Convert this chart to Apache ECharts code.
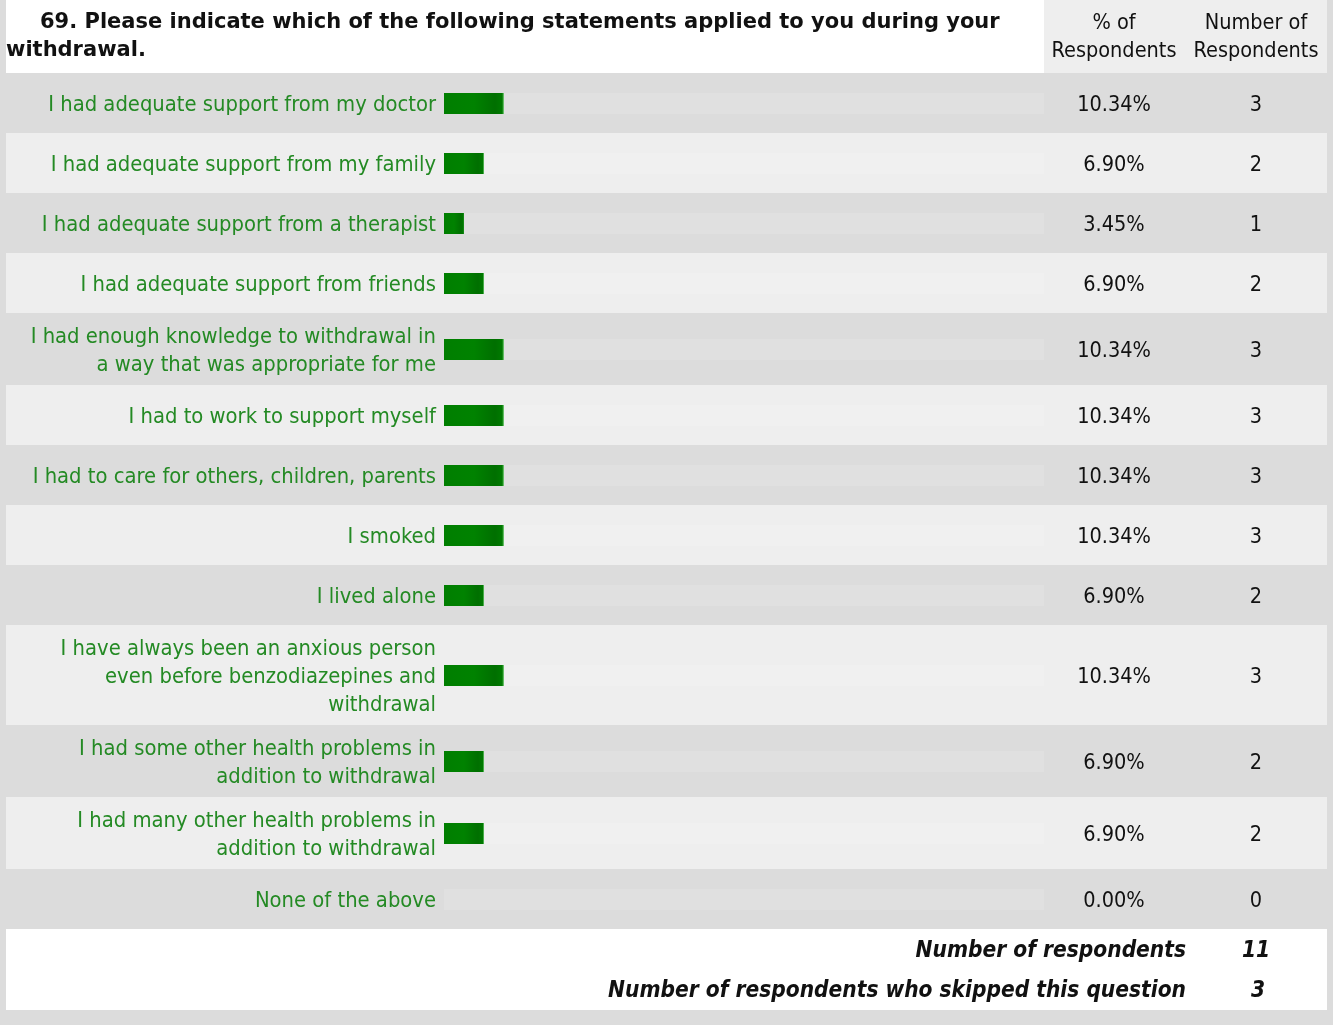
<!DOCTYPE html>
<html>
  <head>
    <meta charset="utf-8" />
    <title>Q69</title>
    <script src="https://cdn.jsdelivr.net/npm/echarts@6/dist/echarts.min.js"></script>
    <style>
      html, body { margin: 0; padding: 0; background: #dcdcdc; }
    </style>
  </head>
  <body>
    <div id="main" style="width: 1333px;height:1025px;"></div>
    <script type="text/javascript">
      // survey answers, line breaks as in the picture
      var statements = [
        'I had adequate support from my doctor',
        'I had adequate support from my family',
        'I had adequate support from a therapist',
        'I had adequate support from friends',
        'I had enough knowledge to withdrawal in\na way that was appropriate for me',
        'I had to work to support myself',
        'I had to care for others, children, parents',
        'I smoked',
        'I lived alone',
        'I have always been an anxious person\neven before benzodiazepines and\nwithdrawal',
        'I had some other health problems in\naddition to withdrawal',
        'I had many other health problems in\naddition to withdrawal',
        'None of the above'
      ];
      var percents = [10.34, 6.90, 3.45, 6.90, 10.34, 10.34, 10.34, 10.34, 6.90, 10.34, 6.90, 6.90, 0.00];
      var counts = [3, 2, 1, 2, 3, 3, 3, 3, 2, 3, 2, 2, 0];
      var totalRespondents = 11;
      var skipped = 3;

      var FONT = '"DejaVu Sans Condensed", "DejaVu Sans", sans-serif';
      var TITLE_FONT = '"DejaVu Sans", sans-serif';
      var GREEN_TXT = '#248a24';

      // row height grows with the number of text lines
      var rows = [];
      var y = 73;
      statements.forEach(function (s, i) {
        var lines = s.split('\n').length;
        var h = Math.max(60, lines * 28 + 16);
        rows.push([y, y + h, percents[i], counts[i], i]);
        y += h;
      });
      var tableEnd = y;

      var myChart = echarts.init(document.getElementById('main'));

      function renderRow(params, api) {
        var i = api.value(4);
        var top = api.coord([0, api.value(0)])[1];
        var bottom = api.coord([0, api.value(1)])[1];
        var mid = (top + bottom) / 2;
        var x0 = api.coord([0, 0])[0];
        var x1 = api.coord([api.value(2), 0])[0];
        var dark = i % 2 === 0;
        var bg = dark ? '#dcdcdc' : '#eeeeee';
        var strip = dark ? '#e0e0e0' : '#f0f0f0';
        var children = [
          { type: 'rect', shape: { x: 6, y: top, width: 1321, height: bottom - top }, style: { fill: bg } },
          { type: 'rect', shape: { x: x0, y: mid - 10, width: 1044 - x0, height: 21 }, style: { fill: strip } }
        ];
        if (api.value(2) > 0) {
          children.push({
            type: 'rect',
            shape: { x: x0, y: mid - 10, width: x1 - x0, height: 21 },
            style: {
              fill: new echarts.graphic.LinearGradient(0, 0, 1, 0, [
                { offset: 0, color: '#007e00' },
                { offset: 0.5, color: '#008200' },
                { offset: 0.85, color: '#006f00' },
                { offset: 0.97, color: '#007a00' },
                { offset: 1, color: '#7fd27f' }
              ])
            }
          });
        }
        children.push({
          type: 'text',
          style: {
            x: 436, y: mid + 2, text: statements[i], align: 'right', verticalAlign: 'middle',
            font: '21.8px ' + FONT, lineHeight: 28, fill: GREEN_TXT
          }
        });
        children.push({
          type: 'text',
          style: {
            x: 1114, y: mid + 2, text: api.value(2).toFixed(2) + '%', align: 'center', verticalAlign: 'middle',
            font: '21.5px ' + FONT, fill: '#111'
          }
        });
        children.push({
          type: 'text',
          style: {
            x: 1256, y: mid + 2, text: String(api.value(3)), align: 'center', verticalAlign: 'middle',
            font: '21.5px ' + FONT, fill: '#111'
          }
        });
        return { type: 'group', children: children };
      }

      var option = {
        animation: false,
        backgroundColor: '#dcdcdc',
        grid: { left: 444, width: 580, top: 0, bottom: 0 },
        xAxis: { type: 'value', min: 0, max: 100, show: false },
        yAxis: { type: 'value', min: 0, max: 1025, inverse: true, show: false },
        graphic: [
          { type: 'rect', shape: { x: 6, y: 0, width: 1038, height: 73 }, style: { fill: '#ffffff' } },
          { type: 'rect', shape: { x: 1044, y: 0, width: 283, height: 73 }, style: { fill: '#eeeeee' } },
          {
            type: 'text', style: {
              x: 40, y: 23, text: '69. Please indicate which of the following statements applied to you during your',
              verticalAlign: 'middle', font: 'bold 21px ' + TITLE_FONT, fill: '#111'
            }
          },
          {
            type: 'text', style: {
              x: 6, y: 51, text: 'withdrawal.', verticalAlign: 'middle', font: 'bold 21px ' + TITLE_FONT, fill: '#111'
            }
          },
          {
            type: 'text', style: {
              x: 1114, y: 37, text: '% of\nRespondents', align: 'center', verticalAlign: 'middle',
              lineHeight: 28, font: '21.5px ' + FONT, fill: '#111'
            }
          },
          {
            type: 'text', style: {
              x: 1256, y: 37, text: 'Number of\nRespondents', align: 'center', verticalAlign: 'middle',
              lineHeight: 28, font: '21.5px ' + FONT, fill: '#111'
            }
          },
          { type: 'rect', shape: { x: 6, y: tableEnd, width: 1321, height: 81 }, style: { fill: '#ffffff' } },
          {
            type: 'text', style: {
              x: 1186, y: tableEnd + 22, text: 'Number of respondents', align: 'right', verticalAlign: 'middle',
              font: 'italic bold 22.5px ' + FONT, fill: '#111'
            }
          },
          {
            type: 'text', style: {
              x: 1256, y: tableEnd + 22, text: String(totalRespondents), align: 'center', verticalAlign: 'middle',
              font: 'italic bold 22.5px ' + FONT, fill: '#111'
            }
          },
          {
            type: 'text', style: {
              x: 1186, y: tableEnd + 62, text: 'Number of respondents who skipped this question', align: 'right',
              verticalAlign: 'middle', font: 'italic bold 22.5px ' + FONT, fill: '#111'
            }
          },
          {
            type: 'text', style: {
              x: 1258, y: tableEnd + 62, text: String(skipped), align: 'center', verticalAlign: 'middle',
              font: 'italic bold 22.5px ' + FONT, fill: '#111'
            }
          }
        ],
        series: [{
          type: 'custom',
          data: rows,
          encode: { x: 2, y: [0, 1] },
          renderItem: renderRow,
          z: 1
        }]
      };
      myChart.setOption(option);
    </script>
  </body>
</html>
